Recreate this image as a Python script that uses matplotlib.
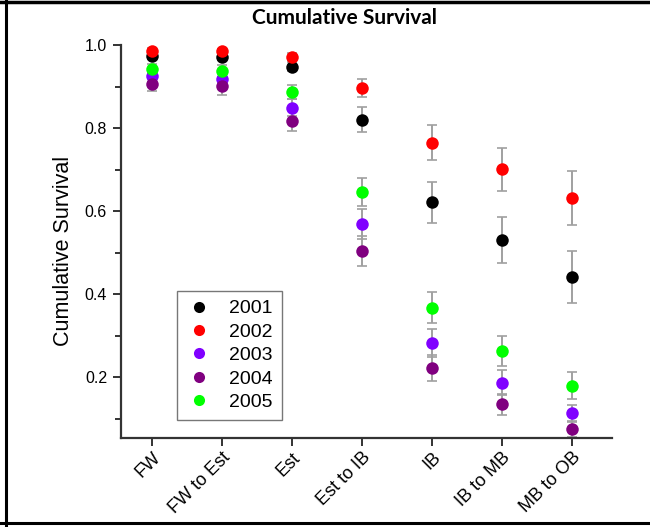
import matplotlib
matplotlib.use("Agg")
import matplotlib.pyplot as plt
from matplotlib.lines import Line2D
from matplotlib.ticker import MultipleLocator
import matplotlib.transforms as mtransforms
import numpy as np

stages = ["FW", "FW to Est", "Est", "Est to IB", "IB", "IB to MB", "MB to OB"]
years = ["2001", "2002", "2003", "2004", "2005"]
colors = ["#000000", "#ff0000", "#8000ff", "#800080", "#00ff00"]

surv_2001 = [0.974, 0.971, 0.948, 0.820, 0.621, 0.531, 0.442]
surv_2002 = [0.986, 0.985, 0.972, 0.896, 0.765, 0.701, 0.632]
surv_2003 = [0.925, 0.918, 0.849, 0.570, 0.283, 0.187, 0.113]
surv_2004 = [0.907, 0.901, 0.818, 0.505, 0.222, 0.135, 0.076]
surv_2005 = [0.942, 0.938, 0.887, 0.646, 0.368, 0.264, 0.180]

err_2001 = [0.008, 0.008, 0.010, 0.030, 0.050, 0.056, 0.062]
err_2002 = [0.006, 0.006, 0.008, 0.021, 0.042, 0.052, 0.065]
err_2003 = [0.014, 0.016, 0.020, 0.036, 0.034, 0.030, 0.020]
err_2004 = [0.018, 0.021, 0.026, 0.036, 0.031, 0.026, 0.019]
err_2005 = [0.012, 0.014, 0.017, 0.034, 0.038, 0.036, 0.033]

series = [surv_2001, surv_2002, surv_2003, surv_2004, surv_2005]
errors = [err_2001, err_2002, err_2003, err_2004, err_2005]

W, H = 650, 527
fig = plt.figure(figsize=(W / 100, H / 100), dpi=100)
ax = fig.add_axes([121 / W, 1 - 438 / H, (612 - 121) / W, (438 - 45) / H])

x = np.arange(len(stages))

# error bars first, markers on top
for vals, errs in zip(series, errors):
    ax.errorbar(x, vals, yerr=errs, fmt="none", ecolor="#a0a0a0",
                elinewidth=1.4, capsize=3.6, capthick=1.2, zorder=2)
for vals, col, yr in zip(series, colors, years):
    ax.plot(x, vals, linestyle="none", marker="o", markersize=9,
            color=col, markeredgewidth=0, label=yr, zorder=3)

ax.set_xlim(-0.443, 6.571)
ax.set_ylim(0.054, 1.0)

ax.yaxis.set_minor_locator(MultipleLocator(0.1))
ax.set_yticks([0.2, 0.4, 0.6, 0.8, 1.0])
ax.set_yticklabels(["0.2", "0.4", "0.6", "0.8", "1.0"])
ax.set_xticks(x)
ax.set_xticklabels(stages, rotation=45, ha="right", va="top",
                   rotation_mode="anchor")

tick_font = "Liberation Sans"
for lab in ax.get_yticklabels():
    lab.set_fontfamily(tick_font)
    lab.set_fontsize(11.5)
shift = mtransforms.ScaledTranslation(-9 / 100, 0, fig.dpi_scale_trans)
for lab in ax.get_xticklabels():
    lab.set_fontfamily(tick_font)
    lab.set_fontsize(13)
    lab.set_transform(lab.get_transform() + shift)

ax.tick_params(axis="both", which="major", direction="out", length=6,
               width=1.4, color="#333333", pad=4)
ax.tick_params(axis="y", which="minor", direction="out", length=4,
               width=1.4, color="#333333")
ax.tick_params(axis="x", which="major", pad=2)

for side in ("top", "right"):
    ax.spines[side].set_visible(False)
for side in ("left", "bottom"):
    ax.spines[side].set_linewidth(1.6)
    ax.spines[side].set_color("#333333")

ax.set_ylabel("Cumulative Survival", fontsize=15.5, family="Liberation Sans")
ax.yaxis.set_label_coords(-0.095, 0.475)

fig.text(344 / W, 1 - 18 / H, "Cumulative Survival", ha="center", va="center",
         fontsize=15, fontweight="bold", family="Lato")

leg = ax.legend(loc="upper left", bbox_to_anchor=(177 / W, 1 - 291 / H),
                bbox_transform=fig.transFigure, frameon=True, fancybox=False,
                prop={"family": "Liberation Sans", "size": 14},
                handletextpad=0.85, labelspacing=0.3, borderpad=0.45,
                handlelength=1.4, borderaxespad=0)
leg.get_frame().set_edgecolor("#555555")
leg.get_frame().set_linewidth(1.0)
for h in leg.legend_handles:
    h.set_markersize(8)

# outer border of the figure
fig.add_artist(Line2D([6 / W, 6 / W], [0, 1], transform=fig.transFigure,
                      color="black", linewidth=2.2))
fig.add_artist(Line2D([0, 1], [1 - 2 / H, 1 - 2 / H], transform=fig.transFigure,
                      color="black", linewidth=2.5))
fig.add_artist(Line2D([0, 1], [1 - 523 / H, 1 - 523 / H], transform=fig.transFigure,
                      color="black", linewidth=2.2))

fig.savefig("out.png", dpi=100)
